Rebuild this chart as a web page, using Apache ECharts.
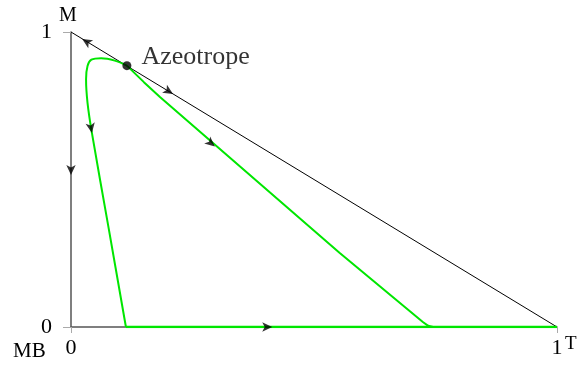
<!DOCTYPE html>
<html>
  <head>
    <meta charset="utf-8" />
    <title>Azeotrope</title>
    <script src="https://cdn.jsdelivr.net/npm/echarts@6/dist/echarts.min.js"></script>
  </head>
  <body style="margin: 0">
    <div id="main" style="width: 579px; height: 367px"></div>
    <script>
      // triangle edge T-M (x + y = 1)
      var edgeTM = [[0, 1], [1, 0]];
      // azeotrope point
      var azeotrope = [[0.115, 0.886]];
      // green residue curve: loop from the azeotrope down to the base
      var loopCurve = [
        [0.115, 0.886], [0.09, 0.903], [0.062, 0.911], [0.042, 0.906],
        [0.034, 0.885], [0.031, 0.84], [0.034, 0.76], [0.043, 0.658],
        [0.078, 0.33], [0.113, 0]
      ];
      var baseCurve = [[0.113, 0], [1, 0]];
      // green branch from the azeotrope to the base
      var diagCurve = [
        [0.115, 0.886], [0.15, 0.83], [0.183, 0.78], [0.553, 0.251],
        [0.724, 0.017], [0.735, 0.004], [0.745, 0]
      ];
      // arrow heads: [x, y, direction in degrees]
      var arrowsBlack = [
        [0.023, 0.976, 58.7],
        [0.21, 0.79, 238.7],
        [0, 0.515, 180],
        [0.043, 0.658, 190],
        [0.296, 0.612, 230],
        [0.414, 0, 270]
      ];

      var chart = echarts.init(document.getElementById("main"));
      var font = "'Liberation Serif', 'Times New Roman', serif";
      var green = "#00e600";

      chart.setOption({
        animation: false,
        backgroundColor: "#fff",
        grid: { left: 71, right: 22, top: 32, bottom: 40 },
        xAxis: {
          type: "value", min: 0, max: 1, interval: 1,
          splitLine: { show: false },
          axisLine: { lineStyle: { color: "#555", width: 1.5 } },
          axisTick: { length: 6, lineStyle: { color: "#aaa" } },
          axisLabel: { color: "#000", fontFamily: font, fontSize: 22, margin: 10 }
        },
        yAxis: {
          type: "value", min: 0, max: 1, interval: 1,
          splitLine: { show: false },
          axisLine: { lineStyle: { color: "#555", width: 1.5 } },
          axisTick: { length: 8, lineStyle: { color: "#aaa" } },
          axisLabel: { color: "#000", fontFamily: font, fontSize: 22, margin: 19 }
        },
        graphic: [
          { type: "text", left: 59, top: 6, style: { text: "M", font: "20px " + font, fill: "#000" } },
          { type: "text", left: 13, top: 341, style: { text: "MB", font: "21px " + font, fill: "#000" } },
          { type: "text", left: 565, top: 335, style: { text: "T", font: "19px " + font, fill: "#000" } }
        ],
        series: [
          {
            type: "line", data: edgeTM, showSymbol: false, silent: true,
            lineStyle: { color: "#000", width: 1 }
          },
          {
            type: "line", data: loopCurve, showSymbol: false, smooth: 0.35,
            lineStyle: { color: green, width: 2 }
          },
          {
            type: "line", data: baseCurve, showSymbol: false,
            lineStyle: { color: green, width: 2.5 }
          },
          {
            type: "line", data: diagCurve, showSymbol: false,
            lineStyle: { color: green, width: 2 }
          },
          {
            type: "scatter", symbol: "arrow", symbolSize: [7, 10],
            itemStyle: { color: "#000" },
            symbolRotate: function (v) { return v[2]; },
            data: arrowsBlack, z: 5
          },
          {
            type: "scatter", data: azeotrope, symbolSize: 9, z: 6,
            itemStyle: { color: "#000" },
            label: {
              show: true, position: "right", distance: 10, offset: [0, -8],
              formatter: "Azeotrope", color: "#000", fontFamily: font, fontSize: 26
            }
          }
        ]
      });
    </script>
  </body>
</html>
